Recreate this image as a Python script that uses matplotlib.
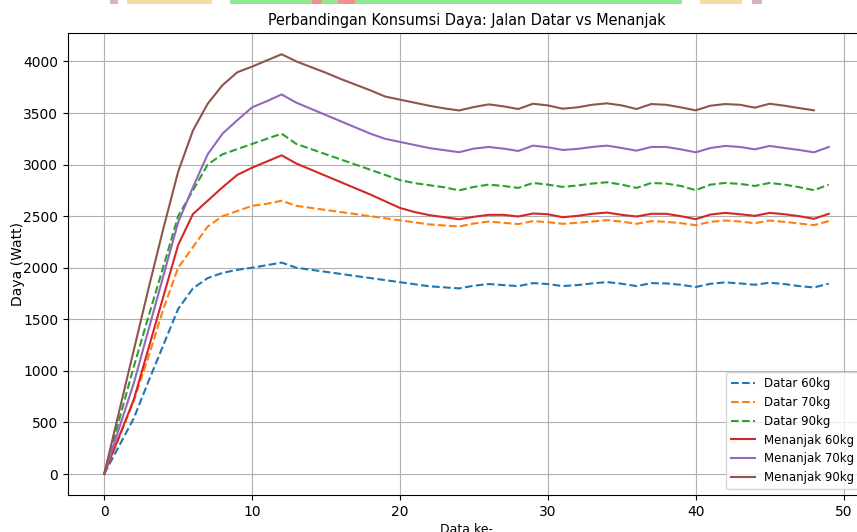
import numpy as np
import matplotlib.pyplot as plt
from matplotlib.patches import Rectangle

# Daya (Watt) per data ke-
datar_60 = [0, 270, 540, 900, 1250, 1600, 1800, 1900, 1950, 1980, 2000, 2025, 2050,
            2000, 1980, 1960, 1940, 1920, 1900, 1880, 1860, 1840, 1820, 1810, 1800,
            1826, 1842, 1832, 1822, 1851, 1842, 1822, 1832, 1848, 1861, 1845, 1822, 1851,
            1848, 1835, 1813, 1845, 1858, 1848, 1835, 1855, 1842, 1822, 1809, 1845]
datar_70 = [0, 350, 710, 1140, 1600, 2000, 2200, 2400, 2500, 2550, 2600, 2620, 2650,
            2600, 2580, 2560, 2540, 2520, 2500, 2480, 2460, 2440, 2420, 2410, 2400,
            2429, 2448, 2436, 2423, 2452, 2442, 2426, 2436, 2448, 2461, 2448, 2426, 2452,
            2445, 2432, 2413, 2445, 2458, 2448, 2432, 2458, 2445, 2429, 2413, 2452]
datar_90 = [0, 520, 1040, 1530, 2010, 2500, 2750, 3000, 3100, 3150, 3200, 3250, 3300,
            3200, 3150, 3100, 3050, 3000, 2950, 2900, 2850, 2820, 2800, 2780, 2750,
            2784, 2806, 2793, 2774, 2822, 2806, 2784, 2797, 2816, 2829, 2806, 2774, 2822,
            2816, 2793, 2752, 2806, 2822, 2813, 2793, 2822, 2806, 2781, 2752, 2806]
menanjak_60 = [0, 360, 720, 1220, 1720, 2220, 2520, 2650, 2780, 2900, 2970, 3030, 3090,
               3010, 2950, 2890, 2830, 2770, 2710, 2645, 2580, 2540, 2510, 2490, 2470,
               2494, 2513, 2513, 2497, 2526, 2519, 2490, 2503, 2523, 2535, 2513, 2497, 2523,
               2523, 2500, 2471, 2516, 2532, 2519, 2503, 2532, 2519, 2500, 2474, 2523]
menanjak_70 = [0, 440, 880, 1400, 1920, 2440, 2780, 3100, 3300, 3430, 3555, 3615, 3680,
               3600, 3540, 3480, 3420, 3360, 3300, 3250, 3220, 3190, 3160, 3140, 3120,
               3155, 3171, 3155, 3132, 3184, 3168, 3142, 3152, 3171, 3184, 3161, 3135, 3171,
               3171, 3148, 3119, 3161, 3181, 3171, 3148, 3181, 3161, 3142, 3119, 3171]
menanjak_90 = [0, 600, 1200, 1800, 2380, 2930, 3330, 3590, 3770, 3895, 3950, 4010, 4070,
               4000, 3945, 3890, 3830, 3775, 3720, 3660, 3630, 3600, 3570, 3545, 3525,
               3558, 3584, 3565, 3539, 3590, 3574, 3542, 3555, 3580, 3594, 3574, 3539, 3587,
               3580, 3555, 3526, 3571, 3587, 3580, 3552, 3590, 3571, 3548, 3526]

x = np.arange(len(datar_60))

fig = plt.figure(figsize=(8.57, 5.32), dpi=100)
ax = fig.add_axes([0.0793, 0.0695, 0.930, 0.868])

ax.plot(x, datar_60, "--", label="Datar 60kg")
ax.plot(x, datar_70, "--", label="Datar 70kg")
ax.plot(x, datar_90, "--", label="Datar 90kg")
ax.plot(x, menanjak_60, label="Menanjak 60kg")
ax.plot(x, menanjak_70, label="Menanjak 70kg")
ax.plot(x[:len(menanjak_90)], menanjak_90, label="Menanjak 90kg")

ax.set_title("Perbandingan Konsumsi Daya: Jalan Datar vs Menanjak",
             fontsize=11.5, fontstretch="condensed")
ax.set_xlabel("Data ke-", fontsize=9, labelpad=3)
ax.set_ylabel("Daya (Watt)", labelpad=-1.5)
ax.grid(True)
ax.legend(loc="lower right", fontsize=8.5)

# strip of colour blocks along the top edge
strip = [(110, 118, "#d8b4b4"), (127, 212, "#f2dca0"), (230, 312, "#90e890"),
         (312, 322, "#f09090"), (322, 338, "#90e890"), (338, 355, "#f09090"),
         (355, 682, "#90e890"), (700, 742, "#f2dca0"), (752, 762, "#d8b4b4")]
for x0, x1, c in strip:
    fig.add_artist(Rectangle((x0 / 857, 528 / 532), (x1 - x0) / 857, 4 / 532,
                             transform=fig.transFigure, color=c, lw=0))

plt.savefig("out.png", dpi=100)
plt.close()
